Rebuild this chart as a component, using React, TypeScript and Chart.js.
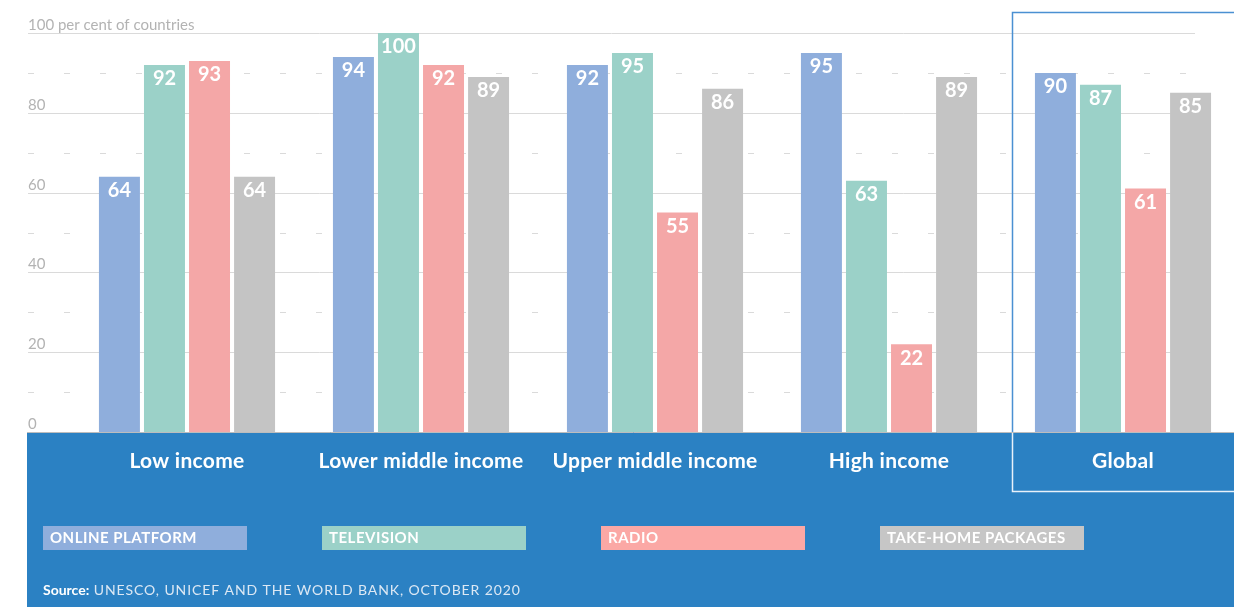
import React, { useEffect, useRef } from "react";
import { Chart, registerables } from "chart.js";

Chart.register(...registerables);

const categories = ["Low income", "Lower middle income", "Upper middle income", "High income", "Global"];
const onlinePlatform = [64, 94, 92, 95, 90];
const television = [92, 100, 95, 63, 87];
const radio = [93, 92, 55, 22, 61];
const takeHome = [64, 89, 86, 89, 85];
const seriesNames = ["ONLINE PLATFORM", "TELEVISION", "RADIO", "TAKE-HOME PACKAGES"];
const seriesColors = ["#8FAEDC", "#9BD1C8", "#F4A7A7", "#C4C4C4"];
const legendColors = ["#8FAEDC", "#9BD1C8", "#FBA8A5", "#C6C6C6"];
const solidTicks = [0, 20, 40, 60, 80, 100];
const dashedTicks = [10, 30, 50, 70, 90];
const tickLabels = ["0", "20", "40", "60", "80", "100 per cent of countries"];
const sourceBold = "Source:";
const sourceText = " UNESCO, UNICEF AND THE WORLD BANK, OCTOBER 2020";

const FONT = "Lato, 'Open Sans', sans-serif";
const BAND = "#2B81C3";

const decorPlugin = {
  id: "decor",
  beforeDatasetsDraw(chart: any) {
    const ctx = chart.ctx;
    const y = chart.scales.y;
    const gx0 = 28;
    const gx1 = 1195;
    ctx.save();
    ctx.strokeStyle = "#DADADA";
    ctx.lineWidth = 1;
    solidTicks.forEach((v) => {
      if (v === 0) return;
      const py = Math.round(y.getPixelForValue(v)) + 0.5;
      ctx.beginPath();
      ctx.moveTo(gx0, py);
      ctx.lineTo(gx1, py);
      ctx.stroke();
    });
    ctx.setLineDash([6, 30]);
    dashedTicks.forEach((v) => {
      const py = Math.round(y.getPixelForValue(v)) + 0.5;
      ctx.beginPath();
      ctx.moveTo(gx0, py);
      ctx.lineTo(gx1, py);
      ctx.stroke();
    });
    ctx.setLineDash([]);
    ctx.fillStyle = "#B3B3B3";
    ctx.font = `15px ${FONT}`;
    ctx.textAlign = "left";
    ctx.textBaseline = "alphabetic";
    solidTicks.forEach((v, i) => {
      const py = y.getPixelForValue(v);
      ctx.fillText(tickLabels[i], gx0, py - 3);
    });
    ctx.restore();
  },
  afterDraw(chart: any) {
    const ctx = chart.ctx;
    const x = chart.scales.x;
    const y = chart.scales.y;
    const W = chart.width;
    const H = chart.height;
    const base = Math.round(y.getPixelForValue(0));
    ctx.save();
    // value labels
    ctx.fillStyle = "#FFFFFF";
    ctx.font = `bold 20px ${FONT}`;
    ctx.textAlign = "center";
    ctx.textBaseline = "middle";
    chart.data.datasets.forEach((ds: any, di: number) => {
      const meta = chart.getDatasetMeta(di);
      meta.data.forEach((bar: any, i: number) => {
        ctx.fillText(String(ds.data[i]), bar.x, bar.y + 14);
      });
    });
    // band
    ctx.fillStyle = BAND;
    ctx.fillRect(27, base, W - 27, H - base);
    ctx.strokeStyle = "#BDBDBD";
    ctx.lineWidth = 1;
    ctx.beginPath();
    ctx.moveTo(27, base + 0.5);
    ctx.lineTo(W, base + 0.5);
    ctx.stroke();
    // category labels
    ctx.fillStyle = "#FFFFFF";
    ctx.font = `bold 21px ${FONT}`;
    (ctx as any).letterSpacing = "0.3px";
    ctx.textAlign = "center";
    ctx.textBaseline = "middle";
    categories.forEach((c, i) => {
      ctx.fillText(c, x.getPixelForValue(i), base + 29);
    });
    (ctx as any).letterSpacing = "0px";
    // global box
    const bx = Math.round((x.getPixelForValue(3) + x.getPixelForValue(4)) / 2) + 6.5;
    const by0 = 12.5;
    const by1 = base + 59.5;
    ctx.lineWidth = 1.5;
    ctx.strokeStyle = "#4A90D2";
    ctx.beginPath();
    ctx.moveTo(W + 2, by0);
    ctx.lineTo(bx, by0);
    ctx.lineTo(bx, base);
    ctx.stroke();
    ctx.strokeStyle = "#E8F1FA";
    ctx.beginPath();
    ctx.moveTo(bx, base + 1);
    ctx.lineTo(bx, by1);
    ctx.lineTo(W + 2, by1);
    ctx.stroke();
    // legend
    const lx0 = 43;
    const lstep = 279;
    const ly = base + 94;
    ctx.font = `bold 15px ${FONT}`;
    (ctx as any).letterSpacing = "0.5px";
    ctx.textAlign = "left";
    ctx.textBaseline = "middle";
    seriesNames.forEach((n, i) => {
      const lx = lx0 + i * lstep;
      ctx.fillStyle = legendColors[i];
      ctx.fillRect(lx, ly, 204, 24);
      ctx.fillStyle = "#FFFFFF";
      ctx.fillText(n, lx + 7, ly + 12.5);
    });
    (ctx as any).letterSpacing = "0px";
    // source
    const sy = base + 158;
    ctx.fillStyle = "#FFFFFF";
    ctx.font = `bold 14px ${FONT}`;
    ctx.fillText(sourceBold, 43, sy);
    const w = ctx.measureText(sourceBold).width;
    ctx.fillStyle = "#DCE8F4";
    ctx.font = `14px ${FONT}`;
    (ctx as any).letterSpacing = "0.9px";
    ctx.fillText(sourceText, 43 + w, sy);
    (ctx as any).letterSpacing = "0px";
    ctx.restore();
  },
};

export default function App() {
  const ref = useRef<HTMLCanvasElement | null>(null);
  useEffect(() => {
    const prevMargin = document.body.style.margin;
    document.body.style.margin = "0";
    if (!ref.current) return;
    const data = [onlinePlatform, television, radio, takeHome];
    const chart = new Chart(ref.current, {
      type: "bar",
      data: {
        labels: categories,
        datasets: data.map((d, i) => ({
          label: seriesNames[i],
          data: d,
          backgroundColor: seriesColors[i],
          borderWidth: 0,
          categoryPercentage: 0.77,
          barPercentage: 0.91,
        })),
      },
      options: {
        animation: false,
        responsive: false,
        maintainAspectRatio: false,
        layout: { padding: { left: 70, right: 0, top: 33, bottom: 175 } },
        plugins: { legend: { display: false }, tooltip: { enabled: false } },
        scales: {
          x: { display: false },
          y: { display: false, min: 0, max: 100 },
        },
      },
      plugins: [decorPlugin],
    });
    return () => {
      chart.destroy();
      document.body.style.margin = prevMargin;
    };
  }, []);
  return (
    <div style={{ position: "absolute", left: 0, top: 0, width: 1234, height: 607, overflow: "hidden", background: "#fff" }}>
      <canvas ref={ref} width={1240} height={607} style={{ display: "block" }} />
    </div>
  );
}
